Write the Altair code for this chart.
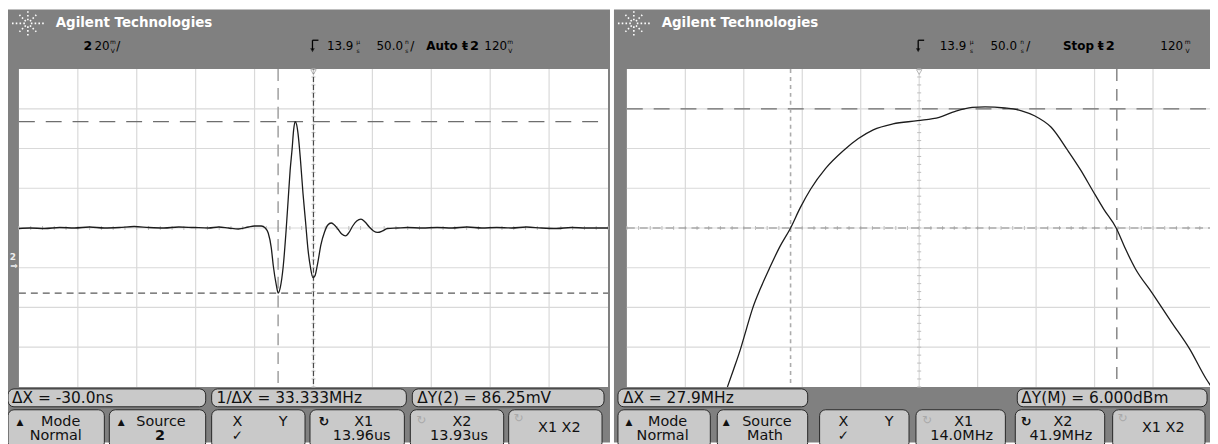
import altair as alt
import pandas as pd
import numpy as np

# ---------------- data read from the two scope screens ----------------
# Left screen: impulse response, time offset from 13.96 us (ns) vs volts (mV, from screen centre)
pulse_time_ns = [-250, -240.7, -228.1, -215.4, -202.8, -190.1, -177.5, -164.8, -152.2, -139.6,
                 -126.9, -114.3, -101.6, -89.0, -80.5, -72.1, -63.7, -55.2, -50.2, -44.3,
                 -40.9, -38.4, -35.8, -34.1, -31.6, -29.9, -28.2, -25.7, -23.2, -21.5,
                 -19.8, -18.1, -16.9, -15.6, -14.3, -13.1, -11.0, -8.9, -6.7, -4.6,
                 -2.5, -0.4, 1.3, 3.8, 6.3, 9.4, 12.2, 15.0, 17.3, 20.7,
                 24.0, 27.2, 29.9, 33.3, 36.7, 40.3, 43.8, 47.4, 51.0, 54.4,
                 58.6, 62.8, 71.2, 79.7, 92.3, 105.0, 117.6, 130.3, 142.9, 155.6,
                 168.2, 180.9, 193.5, 206.2, 218.8, 231.5, 250]
pulse_mv = [-0.25, 0, -0.25, 0.25, 0, 0.5, 0, 0.25, 0.75, 0.25,
            0, 0.5, 0.25, 0, 0.5, 0, -0.5, 0.5, 1, 1,
            0, -2.5, -10, -19, -28.5, -32.75, -30, -19.5, -1, 14,
            29, 40, 49, 53.5, 52, 47.5, 34, 17.5, 3, -11,
            -20, -25, -24, -17, -8.5, -2, 1.5, 2.5, 1.75, -0.5,
            -3, -4, -2.5, 1, 3.5, 4.5, 3, 0.5, -1.5, -2.25,
            -1.5, -0.25, 0, 0.25, 0, 0.25, 0, 0.5, 0, 0.25,
            0, 0.5, 0, -0.25, 0.25, 0, 0]

# Right screen: FFT magnitude, frequency (MHz) vs level (dB relative to cursor Y2)
fft_freq_mhz = [8.6, 9.14, 9.73, 10.24, 10.74, 11.42, 12.18, 13.03, 14.0, 14.81,
                15.71, 17.0, 18.53, 19.8, 21.07, 22.76, 24.87, 26.71, 28.09, 29.53,
                30.63, 32.32, 33.76, 34.86, 36.29, 37.71, 38.83, 39.82, 40.78, 41.85,
                42.64, 43.49, 44.9, 46.59, 48.14, 49.55, 50.0]
fft_db = [-8.0, -7.1, -6.07, -5.05, -4.07, -3.05, -2.05, -1.0, 0.0, 1.0,
          1.95, 3.0, 3.9, 4.5, 4.94, 5.24, 5.4, 5.57, 5.87, 6.07,
          6.1, 6.04, 5.9, 5.65, 5.07, 3.9, 2.9, 1.9, 0.95, 0.0,
          -1.05, -2.05, -3.25, -4.75, -6.1, -7.6, -8.0]

# cursors
left_x1_ns, left_x2_ns = 0.0, -30.0          # 13.96us / 13.93us
left_y1_mv, left_y2_mv = 53.5, -32.75        # dY = 86.25 mV
right_x1_mhz, right_x2_mhz = 14.0, 41.9      # dX = 27.9 MHz
right_y1_db, right_y2_db = 6.0, 0.0          # dY = 6.000 dBm

# graticule (10 x 8 divisions)
left_vgrid = [-200, -150, -100, -50, 0, 50, 100, 150, 200]
left_hgrid = [-60, -40, -20, 0, 20, 40, 60]
right_vgrid = [5, 10, 15, 20, 25, 30, 35, 40, 45]
right_hgrid = [-6, -4, -2, 0, 2, 4, 6]

W, H = 1210, 436
FONT = "DejaVu Sans"
GRID = "#d9d9d9"
SCREEN = "#808080"

LX = alt.Scale(domain=[-250, 250], range=[11, 604], nice=False, zero=False)
LY = alt.Scale(domain=[-80, 80], range=[380, 60], nice=False, zero=False)
RX = alt.Scale(domain=[0, 50], range=[623, 1211.5], nice=False, zero=False)
RY = alt.Scale(domain=[-8, 8], range=[380, 60], nice=False, zero=False)
LCX, RCX, CY = 307.5, 917.25, 220   # pixel centres of the graticules


def px(f):
    return alt.X(f, type="quantitative", scale=None, axis=None)


def py(f):
    return alt.Y(f, type="quantitative", scale=None, axis=None)


layers = []

# screens
panels = pd.DataFrame([dict(x=0, x2=606, y=0, y2=H), dict(x=610, x2=W, y=0, y2=H)])
layers.append(alt.Chart(panels).mark_rect(color=SCREEN).encode(
    x=px("x"), x2="x2", y=py("y"), y2="y2"))
plots = pd.DataFrame([dict(x=11, x2=604, y=60, y2=380), dict(x=623, x2=1211.5, y=60, y2=380)])
layers.append(alt.Chart(plots).mark_rect(color="white").encode(
    x=px("x"), x2="x2", y=py("y"), y2="y2"))

# gridlines
layers.append(alt.Chart(pd.DataFrame({"t": left_vgrid})).mark_rule(color=GRID, strokeWidth=1.2).encode(
    x=alt.X("t:Q", scale=LX, axis=None), y=alt.value(60), y2=alt.value(380)))
layers.append(alt.Chart(pd.DataFrame({"v": left_hgrid})).mark_rule(color=GRID, strokeWidth=1.2).encode(
    y=alt.Y("v:Q", scale=LY, axis=None), x=alt.value(11), x2=alt.value(604)))
layers.append(alt.Chart(pd.DataFrame({"f": right_vgrid})).mark_rule(color=GRID, strokeWidth=1.2).encode(
    x=alt.X("f:Q", scale=RX, axis=None), y=alt.value(60), y2=alt.value(380)))
layers.append(alt.Chart(pd.DataFrame({"d": right_hgrid})).mark_rule(color=GRID, strokeWidth=1.2).encode(
    y=alt.Y("d:Q", scale=RY, axis=None), x=alt.value(623), x2=alt.value(1211.5)))

# minor ticks on the centre lines (every 1/5 division)
TICK = "#bdbdbd"
layers.append(alt.Chart(pd.DataFrame({"t": np.arange(-250, 251, 10)})).mark_rule(color=TICK).encode(
    x=alt.X("t:Q", scale=LX, axis=None), y=alt.value(CY - 2), y2=alt.value(CY + 2)))
layers.append(alt.Chart(pd.DataFrame({"v": np.arange(-80, 81, 4)})).mark_rule(color=TICK).encode(
    y=alt.Y("v:Q", scale=LY, axis=None), x=alt.value(LCX - 2), x2=alt.value(LCX + 2)))
layers.append(alt.Chart(pd.DataFrame({"f": np.arange(0, 51, 1)})).mark_rule(color=TICK).encode(
    x=alt.X("f:Q", scale=RX, axis=None), y=alt.value(CY - 2), y2=alt.value(CY + 2)))
layers.append(alt.Chart(pd.DataFrame({"d": np.arange(-8, 8.01, 0.4)})).mark_rule(color=TICK).encode(
    y=alt.Y("d:Q", scale=RY, axis=None), x=alt.value(RCX - 2), x2=alt.value(RCX + 2)))


def hcursor(val, scale, x0, x1, dash, color, width=1.2):
    return alt.Chart(pd.DataFrame({"c": [val]})).mark_rule(
        color=color, strokeDash=dash, strokeWidth=width).encode(
        y=alt.Y("c:Q", scale=scale, axis=None), x=alt.value(x0), x2=alt.value(x1))


def vcursor(val, scale, dash, color, width=1.2):
    return alt.Chart(pd.DataFrame({"c": [val]})).mark_rule(
        color=color, strokeDash=dash, strokeWidth=width).encode(
        x=alt.X("c:Q", scale=scale, axis=None), y=alt.value(60), y2=alt.value(380))


layers += [
    hcursor(left_y1_mv, LY, 11, 604, [16, 11], "#6e6e6e"),
    hcursor(left_y2_mv, LY, 11, 604, [7, 5], "#5a5a5a"),
    vcursor(left_x2_ns, LX, [12, 7], "#a6a6a6", 1.6),
    vcursor(left_x1_ns, LX, [5, 3], "#4a4a4a", 1.2),
    hcursor(right_y1_db, RY, 623, 1211.5, [16, 11], "#6e6e6e"),
    hcursor(right_y2_db, RY, 623, 1211.5, [8, 5], "#8a8a8a"),
    vcursor(right_x1_mhz, RX, [4, 4], "#ababab", 1.6),
    vcursor(right_x2_mhz, RX, [12, 8], "#8c8c8c", 1.6),
]

# traces
layers.append(alt.Chart(pd.DataFrame({"t": pulse_time_ns, "v": pulse_mv})).mark_line(
    color="#1c1c1c", strokeWidth=1.3, interpolate="monotone").encode(
    x=alt.X("t:Q", scale=LX, axis=None), y=alt.Y("v:Q", scale=LY, axis=None)))
layers.append(alt.Chart(pd.DataFrame({"f": fft_freq_mhz, "d": fft_db})).mark_line(
    color="#1c1c1c", strokeWidth=1.3, interpolate="monotone").encode(
    x=alt.X("f:Q", scale=RX, axis=None), y=alt.Y("d:Q", scale=RY, axis=None)))

# trigger position markers
trig = pd.DataFrame([dict(x=LCX, y=63), dict(x=RCX, y=63)])
layers.append(alt.Chart(trig).mark_point(shape="triangle-down", size=30, filled=True,
                                          fill="white", stroke="#9a9a9a", strokeWidth=1).encode(
    x=px("x"), y=py("y")))
trig_bars = pd.DataFrame([dict(x=LCX - 1, x2=LCX - 1, y=31, y2=41), dict(x=LCX - 1, x2=LCX + 5, y=31, y2=31),
                          dict(x=RCX - 1, x2=RCX - 1, y=31, y2=41), dict(x=RCX - 1, x2=RCX + 5, y=31, y2=31)])
layers.append(alt.Chart(trig_bars).mark_rule(color="black", strokeWidth=1.3).encode(
    x=px("x"), x2="x2", y=py("y"), y2="y2"))
trig_heads = pd.DataFrame([dict(x=LCX - 1, y=41), dict(x=RCX - 1, y=41)])
layers.append(alt.Chart(trig_heads).mark_point(shape="triangle-down", size=22, filled=True,
                                                color="black").encode(x=px("x"), y=py("y")))

# logo: dotted starburst
rays = []
for cx in (20, 630):
    for ang, ln in [(0, 17), (45, 12), (90, 14), (135, 12), (180, 17), (225, 12), (270, 14), (315, 12)]:
        a = np.deg2rad(ang)
        rays.append(dict(x=cx + 3 * np.cos(a), y=14 - 3 * np.sin(a),
                         x2=cx + ln * np.cos(a), y2=14 - ln * np.sin(a)))
layers.append(alt.Chart(pd.DataFrame(rays)).mark_rule(
    color="white", strokeWidth=1.6, strokeDash=[1.6, 2.2]).encode(
    x=px("x"), x2="x2", y=py("y"), y2="y2"))

# soft-key boxes
row1 = [(0, 199), (205, 401), (407, 600), (614, 805), (1016, 1207)]
row2 = [(0, 97), (102, 199), (205, 299), (304, 399), (405, 499), (504, 598),
        (614, 707), (714, 805), (817, 907), (914, 1004), (1014, 1104), (1112, 1205)]
boxes = pd.DataFrame([dict(x=a, x2=b, y=382, y2=400) for a, b in row1] +
                     [dict(x=a, x2=b, y=403, y2=442) for a, b in row2])
layers.append(alt.Chart(boxes).mark_rect(cornerRadius=6, fill="#c9c9c9", stroke="#262626",
                                         strokeWidth=1).encode(
    x=px("x"), x2="x2", y=py("y"), y2="y2"))

# texts: (text, x, y, size, color, weight, align)
K = "#111111"
F = "#a9a9a9"
A = 15.5   # measurement row text size
B = 14.5   # soft-key text size
U = 6      # stacked unit size
texts = [
    ("Agilent Technologies", 48, 14, 13.5, "white", "bold", "left"),
    ("Agilent Technologies", 658, 14, 13.5, "white", "bold", "left"),
    # left header row
    ("2", 76, 37, 12.5, "black", "bold", "left"),
    ("20", 87, 37, 12, "black", "normal", "left"),
    ("m", 105.5, 32.5, U, "black", "normal", "center"),
    ("V", 105.5, 41.5, U, "black", "normal", "center"),
    ("/", 109, 37, 12, "black", "normal", "left"),
    ("13.9", 321, 37, 12, "black", "normal", "left"),
    ("µ", 352.5, 32.5, U, "black", "normal", "center"),
    ("s", 352.5, 41.5, U, "black", "normal", "center"),
    ("50.0", 371, 37, 12, "black", "normal", "left"),
    ("n", 401.5, 32.5, U, "black", "normal", "center"),
    ("s", 401.5, 41.5, U, "black", "normal", "center"),
    ("/", 405, 37, 12, "black", "normal", "left"),
    ("Auto", 421, 37, 12, "black", "bold", "left"),
    ("ŧ", 457, 37, 12.5, "black", "bold", "left"),
    ("2", 465, 37, 13, "black", "bold", "left"),
    ("120", 479.5, 37, 12, "black", "normal", "left"),
    ("m", 505.5, 32.5, U, "black", "normal", "center"),
    ("V", 505.5, 41.5, U, "black", "normal", "center"),
    # right header row
    ("13.9", 938, 37, 12, "black", "normal", "left"),
    ("µ", 970, 32.5, U, "black", "normal", "center"),
    ("s", 970, 41.5, U, "black", "normal", "center"),
    ("50.0", 989, 37, 12, "black", "normal", "left"),
    ("n", 1021, 32.5, U, "black", "normal", "center"),
    ("s", 1021, 41.5, U, "black", "normal", "center"),
    ("/", 1025, 37, 12, "black", "normal", "left"),
    ("Stop", 1062, 37, 12, "black", "bold", "left"),
    ("ŧ", 1097, 37, 12.5, "black", "bold", "left"),
    ("2", 1105, 37, 13, "black", "bold", "left"),
    ("120", 1160, 37, 12, "black", "normal", "left"),
    ("m", 1187.5, 32.5, U, "black", "normal", "center"),
    ("V", 1187.5, 41.5, U, "black", "normal", "center"),
    # ground marker
    ("2", 5, 249, 9, "#eeeeee", "bold", "center"),
    ("⇒", 6, 258, 9, "#eeeeee", "bold", "center"),
    # measurement row
    ("ΔX = -30.0ns", 4, 391, A, K, "normal", "left"),
    ("1/ΔX = 33.333MHz", 210, 391, A, K, "normal", "left"),
    ("ΔY(2) = 86.25mV", 412, 391, A, K, "normal", "left"),
    ("ΔX = 27.9MHz", 619, 391, A, K, "normal", "left"),
    ("ΔY(M) = 6.000dBm", 1020, 391, A, K, "normal", "left"),
    # soft keys, left
    ("▲", 12, 415, 9, K, "normal", "center"),
    ("Mode", 53, 415, B, K, "normal", "center"),
    ("Normal", 48, 429, B, K, "normal", "center"),
    ("▲", 114, 415, 9, K, "normal", "center"),
    ("Source", 154, 415, B, K, "normal", "center"),
    ("2", 153, 429, B, K, "bold", "center"),
    ("X", 231, 415, B, K, "normal", "center"),
    ("Y", 277, 415, B, K, "normal", "center"),
    ("✓", 231, 429, 13.5, K, "normal", "center"),
    ("↻", 318, 415, 13, K, "bold", "center"),
    ("X1", 358, 415, B, K, "normal", "center"),
    ("13.96us", 356, 429, B, K, "normal", "center"),
    ("↻", 416, 413, 12, F, "normal", "center"),
    ("X2", 457, 415, B, K, "normal", "center"),
    ("13.93us", 454, 429, B, K, "normal", "center"),
    ("↻", 514, 411, 12, F, "normal", "center"),
    ("X1 X2", 555, 421, B, K, "normal", "center"),
    # soft keys, right
    ("▲", 625, 415, 9, K, "normal", "center"),
    ("Mode", 664, 415, B, K, "normal", "center"),
    ("Normal", 659, 429, B, K, "normal", "center"),
    ("▲", 723, 415, 9, K, "normal", "center"),
    ("Source", 764, 415, B, K, "normal", "center"),
    ("Math", 762, 429, B, K, "normal", "center"),
    ("X", 841, 415, B, K, "normal", "center"),
    ("Y", 887, 415, B, K, "normal", "center"),
    ("✓", 841, 429, 13.5, K, "normal", "center"),
    ("↻", 925, 413, 12, F, "normal", "center"),
    ("X1", 962, 415, B, K, "normal", "center"),
    ("14.0MHz", 960, 429, B, K, "normal", "center"),
    ("↻", 1025, 415, 13, K, "bold", "center"),
    ("X2", 1062, 415, B, K, "normal", "center"),
    ("41.9MHz", 1060, 429, B, K, "normal", "center"),
    ("↻", 1122, 411, 12, F, "normal", "center"),
    ("X1 X2", 1163, 421, B, K, "normal", "center"),
]
tdf = pd.DataFrame(texts, columns=["text", "x", "y", "size", "color", "weight", "align"])
for (w, al), sub in tdf.groupby(["weight", "align"]):
    layers.append(alt.Chart(sub.drop(columns=["weight", "align"])).mark_text(
        font=FONT, fontWeight=w, align=al, baseline="middle").encode(
        x=px("x"), y=py("y"), text="text:N",
        size=alt.Size("size:Q", scale=None), color=alt.Color("color:N", scale=None)))

chart = alt.layer(*layers).resolve_scale(x="independent", y="independent").properties(
    width=W, height=H, padding=0, background="white",
    autosize=alt.AutoSizeParams(type="none"),
).configure_view(stroke=None)

chart.save("out.html", embed_options={"renderer": "svg", "actions": False})
